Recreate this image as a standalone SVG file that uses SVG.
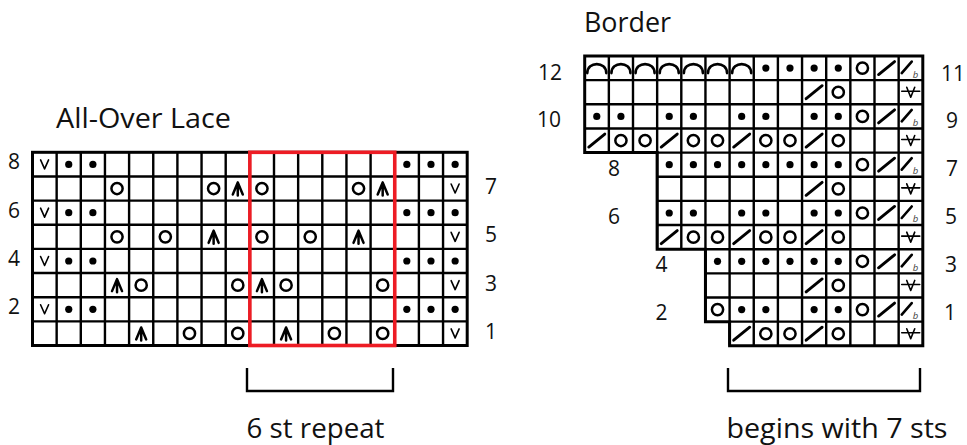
<svg xmlns="http://www.w3.org/2000/svg" width="967" height="445" viewBox="0 0 967 445">
<style>
.t{font-family:"Open Sans","Liberation Sans",sans-serif;fill:#111}
.title{font-size:28px}
.num{font-size:21px;text-anchor:middle}
.grid{fill:none;stroke:#000;stroke-width:2.4}
.outline{fill:none;stroke:#000;stroke-width:3}
.ln{fill:none;stroke:#000;stroke-linecap:round;stroke-linejoin:round}
.b{font-family:"Open Sans","Liberation Sans",sans-serif;font-size:9.5px;font-style:italic;fill:#444}
</style>
<defs>
<circle id="dot" r="3.6" fill="#000"/>
<circle id="yo" r="5.6" fill="none" stroke="#000" stroke-width="2.5"/>
<path id="sl" class="ln" d="M-4,-4.5 L0,4.5 L4,-4.5" stroke-width="1.6"/>
<path id="cdd" class="ln" d="M-5,6 L0,-6 L5,6 M0,-6 L0,7" stroke-width="2.5"/>
<path id="k2" class="ln" d="M-8,6.5 L8,-6.5" stroke-width="2.9"/>
<g id="kb"><path class="ln" d="M-9,5 L1,-6.5" stroke-width="2.6"/><text class="b" x="2" y="9.5">b</text></g>
<path id="vs" class="ln" d="M-4,-5 L0,5 L4,-5 M-9,-1 L9,-1" stroke-width="1.6"/>
<path id="arc" class="ln" d="M-9.5,5 C-9.5,-7 9.5,-7 9.5,5" stroke-width="2.6"/>
</defs>
<rect width="967" height="445" fill="#fff"/>

<g id="lace-chart">
<text class="t title" x="56" y="128.3" textLength="175" lengthAdjust="spacingAndGlyphs">All-Over Lace</text>
<path class="grid" d="M56.65,152.3V345.5M80.8,152.3V345.5M104.95,152.3V345.5M129.1,152.3V345.5M153.25,152.3V345.5M177.4,152.3V345.5M201.55,152.3V345.5M225.7,152.3V345.5M249.85,152.3V345.5M274,152.3V345.5M298.15,152.3V345.5M322.3,152.3V345.5M346.45,152.3V345.5M370.6,152.3V345.5M394.75,152.3V345.5M418.9,152.3V345.5M443.05,152.3V345.5M32.5,176.45H467.2M32.5,200.6H467.2M32.5,224.75H467.2M32.5,248.9H467.2M32.5,273.05H467.2M32.5,297.2H467.2M32.5,321.35H467.2"/>
<rect class="outline" x="32.5" y="152.3" width="434.7" height="193.2"/>
<g id="lace-symbols">
<use href="#sl" x="44.58" y="164.38"/><use href="#dot" x="68.73" y="164.38"/><use href="#dot" x="92.88" y="164.38"/>
<use href="#dot" x="406.83" y="164.38"/><use href="#dot" x="430.98" y="164.38"/><use href="#dot" x="455.13" y="164.38"/>
<use href="#yo" x="117.03" y="188.53"/><use href="#yo" x="213.63" y="188.53"/><use href="#cdd" x="237.78" y="188.53"/>
<use href="#yo" x="261.93" y="188.53"/><use href="#yo" x="358.53" y="188.53"/><use href="#cdd" x="382.68" y="188.53"/>
<use href="#sl" x="455.13" y="188.53"/>
<use href="#sl" x="44.58" y="212.68"/><use href="#dot" x="68.73" y="212.68"/><use href="#dot" x="92.88" y="212.68"/>
<use href="#dot" x="406.83" y="212.68"/><use href="#dot" x="430.98" y="212.68"/><use href="#dot" x="455.13" y="212.68"/>
<use href="#yo" x="117.03" y="236.83"/><use href="#yo" x="165.33" y="236.83"/><use href="#cdd" x="213.63" y="236.83"/>
<use href="#yo" x="261.93" y="236.83"/><use href="#yo" x="310.23" y="236.83"/><use href="#cdd" x="358.53" y="236.83"/>
<use href="#sl" x="455.13" y="236.83"/>
<use href="#sl" x="44.58" y="260.98"/><use href="#dot" x="68.73" y="260.98"/><use href="#dot" x="92.88" y="260.98"/>
<use href="#dot" x="406.83" y="260.98"/><use href="#dot" x="430.98" y="260.98"/><use href="#dot" x="455.13" y="260.98"/>
<use href="#cdd" x="117.03" y="285.13"/><use href="#yo" x="141.18" y="285.13"/><use href="#yo" x="237.78" y="285.13"/>
<use href="#cdd" x="261.93" y="285.13"/><use href="#yo" x="286.08" y="285.13"/><use href="#yo" x="382.68" y="285.13"/>
<use href="#sl" x="455.13" y="285.13"/>
<use href="#sl" x="44.58" y="309.28"/><use href="#dot" x="68.73" y="309.28"/><use href="#dot" x="92.88" y="309.28"/>
<use href="#dot" x="406.83" y="309.28"/><use href="#dot" x="430.98" y="309.28"/><use href="#dot" x="455.13" y="309.28"/>
<use href="#cdd" x="141.18" y="333.43"/><use href="#yo" x="189.48" y="333.43"/><use href="#yo" x="237.78" y="333.43"/>
<use href="#cdd" x="286.08" y="333.43"/><use href="#yo" x="334.38" y="333.43"/><use href="#yo" x="382.68" y="333.43"/>
<use href="#sl" x="455.13" y="333.43"/>
</g>
<rect x="249.85" y="152.3" width="144.9" height="193.2" fill="none" stroke="#ed1c24" stroke-width="3.6"/>
<g id="lace-numbers">
<text class="t num" x="14" y="169.3">8</text>
<text class="t num" x="14" y="217.5">6</text>
<text class="t num" x="14" y="265.7">4</text>
<text class="t num" x="14" y="313.9">2</text>
<text class="t num" x="491" y="194.2">7</text>
<text class="t num" x="491" y="242.4">5</text>
<text class="t num" x="491" y="290.6">3</text>
<text class="t num" x="491" y="338.8">1</text>
</g>
<path class="grid" d="M247,368V391H393V368"/>
<text class="t title" x="246.5" y="437.7" textLength="138" lengthAdjust="spacingAndGlyphs">6 st repeat</text>
</g>

<g id="border-chart">
<text class="t title" x="584" y="31.7" textLength="87" lengthAdjust="spacingAndGlyphs">Border</text>
<path class="grid" d="M608.85,56V152.6M633,56V152.6M657.15,56V249.2M681.3,56V249.2M705.45,56V321.65M729.6,56V345.8M753.75,56V345.8M777.9,56V345.8M802.05,56V345.8M826.2,56V345.8M850.35,56V345.8M874.5,56V345.8M898.65,56V345.8M584.7,80.15H922.8M584.7,104.3H922.8M584.7,128.45H922.8M657.15,176.75H922.8M657.15,200.9H922.8M657.15,225.05H922.8M705.45,273.35H922.8M705.45,297.5H922.8M657.15,152.6H922.8M705.45,249.2H922.8M729.6,321.65H922.8"/>
<path class="outline" d="M584.7,56H922.8V345.8H729.6V321.65H705.45V249.2H657.15V152.6H584.7Z"/>
<g id="border-symbols">
<use href="#arc" x="596.78" y="68.08"/><use href="#arc" x="620.93" y="68.08"/><use href="#arc" x="645.08" y="68.08"/>
<use href="#arc" x="669.23" y="68.08"/><use href="#arc" x="693.38" y="68.08"/><use href="#arc" x="717.53" y="68.08"/>
<use href="#arc" x="741.68" y="68.08"/>
<use href="#dot" x="765.83" y="68.08"/><use href="#dot" x="789.98" y="68.08"/><use href="#dot" x="814.13" y="68.08"/><use href="#dot" x="838.28" y="68.08"/>
<use href="#yo" x="862.43" y="68.08"/><use href="#k2" x="886.58" y="68.08"/><use href="#kb" x="910.73" y="68.08"/>
<use href="#k2" x="814.13" y="92.23"/><use href="#yo" x="838.28" y="92.23"/><use href="#vs" x="910.73" y="92.23"/>
<use href="#dot" x="596.78" y="116.38"/><use href="#dot" x="620.93" y="116.38"/><use href="#dot" x="669.23" y="116.38"/>
<use href="#dot" x="693.38" y="116.38"/><use href="#dot" x="741.68" y="116.38"/><use href="#dot" x="765.83" y="116.38"/>
<use href="#dot" x="814.13" y="116.38"/><use href="#dot" x="838.28" y="116.38"/>
<use href="#yo" x="862.43" y="116.38"/><use href="#k2" x="886.58" y="116.38"/><use href="#kb" x="910.73" y="116.38"/>
<use href="#k2" x="596.78" y="140.53"/><use href="#yo" x="620.93" y="140.53"/><use href="#yo" x="645.08" y="140.53"/>
<use href="#k2" x="669.23" y="140.53"/><use href="#yo" x="693.38" y="140.53"/><use href="#yo" x="717.53" y="140.53"/>
<use href="#k2" x="741.68" y="140.53"/><use href="#yo" x="765.83" y="140.53"/><use href="#yo" x="789.98" y="140.53"/>
<use href="#k2" x="814.13" y="140.53"/><use href="#yo" x="838.28" y="140.53"/><use href="#vs" x="910.73" y="140.53"/>
<use href="#dot" x="669.23" y="164.68"/><use href="#dot" x="693.38" y="164.68"/><use href="#dot" x="717.53" y="164.68"/>
<use href="#dot" x="741.68" y="164.68"/><use href="#dot" x="765.83" y="164.68"/><use href="#dot" x="789.98" y="164.68"/>
<use href="#dot" x="814.13" y="164.68"/><use href="#dot" x="838.28" y="164.68"/>
<use href="#yo" x="862.43" y="164.68"/><use href="#k2" x="886.58" y="164.68"/><use href="#kb" x="910.73" y="164.68"/>
<use href="#k2" x="814.13" y="188.83"/><use href="#yo" x="838.28" y="188.83"/><use href="#vs" x="910.73" y="188.83"/>
<use href="#dot" x="669.23" y="212.98"/><use href="#dot" x="693.38" y="212.98"/><use href="#dot" x="741.68" y="212.98"/>
<use href="#dot" x="765.83" y="212.98"/><use href="#dot" x="814.13" y="212.98"/><use href="#dot" x="838.28" y="212.98"/>
<use href="#yo" x="862.43" y="212.98"/><use href="#k2" x="886.58" y="212.98"/><use href="#kb" x="910.73" y="212.98"/>
<use href="#k2" x="669.23" y="237.13"/><use href="#yo" x="693.38" y="237.13"/><use href="#yo" x="717.53" y="237.13"/>
<use href="#k2" x="741.68" y="237.13"/><use href="#yo" x="765.83" y="237.13"/><use href="#yo" x="789.98" y="237.13"/>
<use href="#k2" x="814.13" y="237.13"/><use href="#yo" x="838.28" y="237.13"/><use href="#vs" x="910.73" y="237.13"/>
<use href="#dot" x="717.53" y="261.28"/><use href="#dot" x="741.68" y="261.28"/><use href="#dot" x="765.83" y="261.28"/>
<use href="#dot" x="789.98" y="261.28"/><use href="#dot" x="814.13" y="261.28"/><use href="#dot" x="838.28" y="261.28"/>
<use href="#yo" x="862.43" y="261.28"/><use href="#k2" x="886.58" y="261.28"/><use href="#kb" x="910.73" y="261.28"/>
<use href="#k2" x="814.13" y="285.43"/><use href="#yo" x="838.28" y="285.43"/><use href="#vs" x="910.73" y="285.43"/>
<use href="#yo" x="717.53" y="309.58"/><use href="#dot" x="741.68" y="309.58"/><use href="#dot" x="765.83" y="309.58"/>
<use href="#dot" x="814.13" y="309.58"/><use href="#dot" x="838.28" y="309.58"/>
<use href="#yo" x="862.43" y="309.58"/><use href="#k2" x="886.58" y="309.58"/><use href="#kb" x="910.73" y="309.58"/>
<use href="#k2" x="741.68" y="333.73"/><use href="#yo" x="765.83" y="333.73"/><use href="#yo" x="789.98" y="333.73"/>
<use href="#k2" x="814.13" y="333.73"/><use href="#yo" x="838.28" y="333.73"/><use href="#vs" x="910.73" y="333.73"/>
</g>
<g id="border-numbers">
<text class="t num" x="550" y="80">12</text>
<text class="t num" x="549" y="127">10</text>
<text class="t num" x="614" y="176">8</text>
<text class="t num" x="614" y="223.5">6</text>
<text class="t num" x="661.5" y="271.7">4</text>
<text class="t num" x="661.5" y="320">2</text>
<text class="t num" x="953" y="80.5">11</text>
<text class="t num" x="952" y="128">9</text>
<text class="t num" x="952" y="176">7</text>
<text class="t num" x="951" y="223.5">5</text>
<text class="t num" x="951" y="271.7">3</text>
<text class="t num" x="950" y="320">1</text>
</g>
<path class="grid" d="M728,368V391H920V368"/>
<text class="t title" x="726.5" y="438.3" textLength="221" lengthAdjust="spacingAndGlyphs">begins with 7 sts</text>
</g>
</svg>
